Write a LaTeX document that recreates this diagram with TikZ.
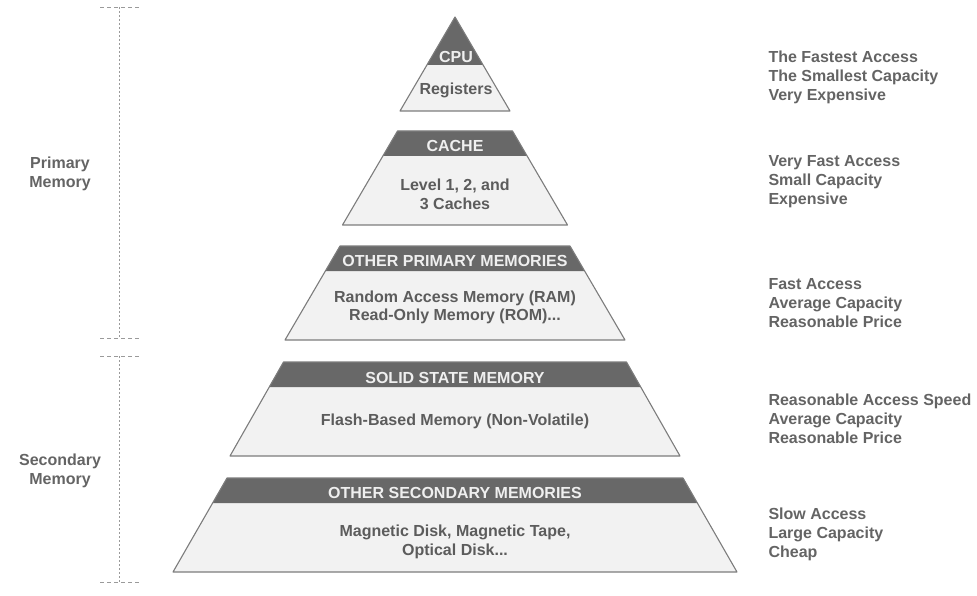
\documentclass[tikz,border=0pt]{standalone}
\usepackage{fontspec}
\setmainfont{Liberation Sans}
\usepackage{xcolor}
\usetikzlibrary{positioning,calc}
\definecolor{tierfill}{HTML}{F2F2F2}
\definecolor{bandfill}{HTML}{686868}
\definecolor{rimgray}{HTML}{7C7C7C}
\definecolor{headgray}{HTML}{EFEFEF}
\definecolor{bodygray}{HTML}{5C5C5C}
\definecolor{notegray}{HTML}{646464}
\definecolor{bracegray}{HTML}{9A9A9A}

\begin{document}
\begin{tikzpicture}[x=1pt, y=-1pt,
    tier/.style={fill=tierfill},
    band/.style={fill=bandfill},
    rim/.style={draw=rimgray, line width=1.1pt, line join=round},
    headtxt/.style={font=\bfseries\fontsize{16}{18}\selectfont, text=headgray},
    bodytxt/.style={font=\bfseries\fontsize{16}{18.5}\selectfont, text=bodygray, align=center},
    note/.style={font=\bfseries\fontsize{16}{19}\selectfont, text=notegray, align=left, anchor=west},
    group/.style={font=\bfseries\fontsize{16}{19}\selectfont, text=notegray, align=center},
    brace/.style={draw=bracegray, line width=0.9pt, dash pattern=on 2pt off 2pt},
    tick/.style={draw=bracegray, line width=0.9pt, dash pattern=on 4pt off 3pt}
]
    \useasboundingbox (0,0) rectangle (977,596);

    % Tiers: top y / top half width / bottom half width / band height
    \foreach \t/\a/\b/\h in {17/0/55/48, 131/57.5/112.5/25, 246/115/170/25, 362/171.5/225/25, 478/228/282/25} {
        \pgfmathsetmacro{\m}{\a+(\b-\a)*\h/94}
        \fill[tier] (455-\a,\t) -- (455+\a,\t) -- (455+\b,\t+94) -- (455-\b,\t+94) -- cycle;
        \fill[band] (455-\a,\t) -- (455+\a,\t) -- (455+\m,\t+\h) -- (455-\m,\t+\h) -- cycle;
        \draw[rim] (455-\a,\t) -- (455+\a,\t) -- (455+\b,\t+94) -- (455-\b,\t+94) -- cycle;
    }

    % Tier texts
    \node[headtxt] (cpu) at (456,57) {CPU};
    \node[bodytxt] (registers) at (456,90.5) {Registers};
    \node[headtxt] (cache) at (455,146) {CACHE};
    \node[bodytxt] (levels) at (455,194.5) {Level 1, 2, and\\3 Caches};
    \node[headtxt] (otherprim) at (455,260.5) {OTHER PRIMARY MEMORIES};
    \node[bodytxt] (ramrom) at (455,307.5) {Random Access Memory (RAM)\\Read-Only Memory (ROM)...};
    \node[headtxt] (solid) at (455,377.5) {SOLID STATE MEMORY};
    \node[bodytxt] (flash) at (455,421.5) {Flash-Based Memory (Non-Volatile)};
    \node[headtxt] (othersec) at (455,492.5) {OTHER SECONDARY MEMORIES};
    \node[bodytxt] (disks) at (455,542) {Magnetic Disk, Magnetic Tape,\\Optical Disk...};

    % Properties
    \node[note] (fastest) at (765,77) {The Fastest Access\\The Smallest Capacity\\Very Expensive};
    \node[note] (veryfast) at (765,182) {Very Fast Access\\Small Capacity\\Expensive};
    \node[note] (fast) at (765,303) {Fast Access\\Average Capacity\\Reasonable Price};
    \node[note] (reasonable) at (765,419) {Reasonable Access Speed\\Average Capacity\\Reasonable Price};
    \node[note] (slow) at (765,534) {Slow Access\\Large Capacity\\Cheap};

    % Groups
    \node[group] (primary) at (60,174) {Primary\\Memory};
    \node[group] (secondary) at (60,471) {Secondary\\Memory};
    \foreach \u/\v in {7/338, 356/582} {
        \draw[brace] (119,\u) -- (119,\v);
        \draw[tick] (100,\u) -- (140,\u);
        \draw[tick] (100,\v) -- (140,\v);
    }
\end{tikzpicture}
\end{document}
